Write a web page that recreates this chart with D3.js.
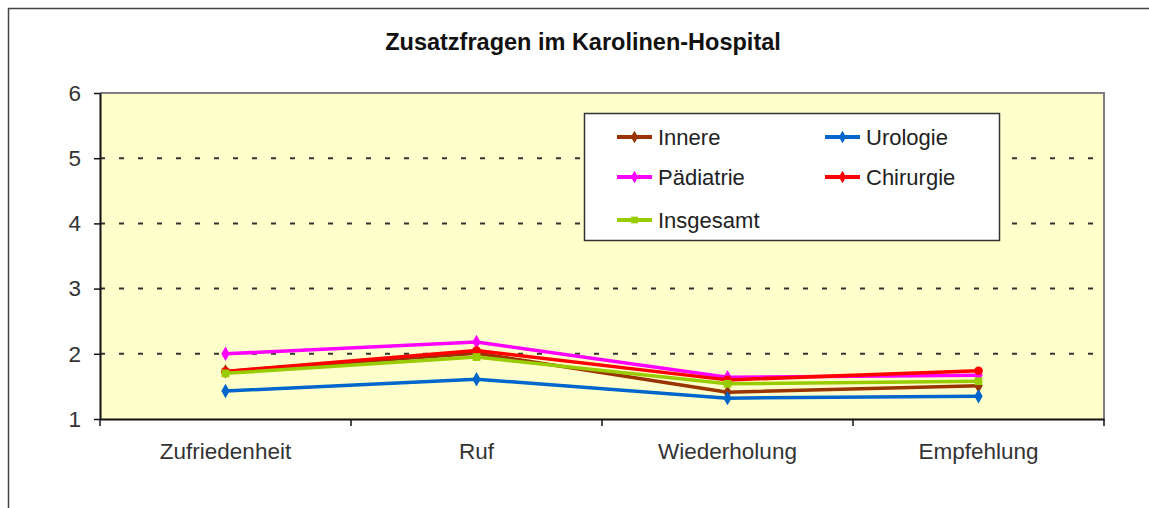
<!DOCTYPE html>
<html>
<head>
<meta charset="utf-8">
<script src="https://cdn.jsdelivr.net/npm/d3@7"></script>
<style>
  html, body { margin: 0; padding: 0; background: #fff; }
  svg { display: block; font-family: "Liberation Sans", Arial, sans-serif; }
</style>
</head>
<body>
<svg id="chart" width="1149" height="508"></svg>
<script>
// data
const categories = ["Zufriedenheit", "Ruf", "Wiederholung", "Empfehlung"];
const innere = [1.73, 2.01, 1.41, 1.51];
const urologie = [1.43, 1.61, 1.32, 1.35];
const paediatrie = [2.0, 2.18, 1.64, 1.67];
const chirurgie = [1.73, 2.05, 1.6, 1.74];
const insgesamt = [1.7, 1.95, 1.54, 1.58];
const yTicks = [1, 2, 3, 4, 5, 6];

const series = [
  { name: "Innere", values: innere, color: "#993300", symbol: d3.symbolDiamond },
  { name: "Urologie", values: urologie, color: "#0066cc", symbol: d3.symbolDiamond },
  { name: "Pädiatrie", values: paediatrie, color: "#ff00ff", symbol: d3.symbolDiamond },
  { name: "Chirurgie", values: chirurgie, color: "#ff0000", symbol: d3.symbolCircle },
  { name: "Insgesamt", values: insgesamt, color: "#99cc00", symbol: d3.symbolSquare }
];

const svg = d3.select("#chart");
const plot = { left: 100, top: 93, right: 1104, bottom: 419 };
const labelFont = "Liberation Sans, Arial, sans-serif";

// outer chart frame (runs off the right and bottom edges)
svg.append("rect")
  .attr("x", 8.5).attr("y", 8.5)
  .attr("width", 1160).attr("height", 520)
  .attr("fill", "#fff").attr("stroke", "#444").attr("stroke-width", 1.5);

svg.append("text")
  .attr("x", 583).attr("y", 50)
  .attr("text-anchor", "middle")
  .attr("font-size", 23.5).attr("font-weight", "bold").attr("fill", "#111")
  .text("Zusatzfragen im Karolinen-Hospital");

const x = d3.scaleBand().domain(categories).range([plot.left, plot.right]);
const y = d3.scaleLinear().domain([1, 6]).range([plot.bottom, plot.top]);

// plot background
svg.append("rect")
  .attr("x", plot.left).attr("y", plot.top)
  .attr("width", plot.right - plot.left).attr("height", plot.bottom - plot.top)
  .attr("fill", "#ffffcc");

// dashed gridlines
svg.append("g")
  .selectAll("line")
  .data(yTicks.filter((t) => t > 1 && t < 6))
  .join("line")
  .attr("x1", plot.left).attr("x2", plot.right)
  .attr("y1", (d) => y(d)).attr("y2", (d) => y(d))
  .attr("stroke", "#333").attr("stroke-width", 2)
  .attr("stroke-dasharray", "5 14");

// gray top / right border of the plot area
svg.append("path")
  .attr("d", `M${plot.left},${plot.top}H${plot.right}V${plot.bottom}`)
  .attr("fill", "none").attr("stroke", "#808080").attr("stroke-width", 2);

// y axis
const yAxis = svg.append("g")
  .attr("transform", `translate(${plot.left},0)`)
  .call(d3.axisLeft(y).tickValues(yTicks).tickFormat(d3.format("d"))
    .tickSize(6).tickPadding(13).tickSizeOuter(0));
yAxis.select(".domain").attr("stroke", "#111").attr("stroke-width", 2);
yAxis.selectAll(".tick line").attr("stroke", "#111").attr("stroke-width", 1.5);
yAxis.selectAll(".tick text")
  .attr("font-size", 22.5).attr("fill", "#333")
  .attr("font-family", labelFont);

// x axis: ticks between categories
const xAxis = svg.append("g")
  .attr("transform", `translate(0,${plot.bottom})`)
  .call(d3.axisBottom(x).tickSize(0).tickPadding(24));
xAxis.select(".domain").attr("stroke", "#111").attr("stroke-width", 2);
xAxis.selectAll(".tick text")
  .attr("font-size", 22.5).attr("fill", "#333")
  .attr("font-family", labelFont);
xAxis.append("g")
  .selectAll("line")
  .data(d3.range(categories.length + 1))
  .join("line")
  .attr("x1", (i) => plot.left + i * x.step()).attr("x2", (i) => plot.left + i * x.step())
  .attr("y1", 0).attr("y2", 7)
  .attr("stroke", "#111").attr("stroke-width", 1.5);

// series lines
const cx = (i) => x(categories[i]) + x.bandwidth() / 2;
const line = d3.line().x((d, i) => cx(i)).y((d) => y(d));

const lines = svg.append("g");
series.forEach((s) => {
  lines.append("path")
    .attr("d", line(s.values))
    .attr("fill", "none").attr("stroke", s.color).attr("stroke-width", 3.5)
    .attr("stroke-linejoin", "round");
  lines.append("g")
    .selectAll("path")
    .data(s.values)
    .join("path")
    .attr("transform", (d, i) => `translate(${cx(i)},${y(d)})`)
    .attr("d", d3.symbol().type(s.symbol).size(60))
    .attr("fill", s.color);
});

// legend
const legend = svg.append("g").attr("transform", "translate(584,113)");
legend.append("rect")
  .attr("x", 0.5).attr("y", 0.5).attr("width", 415).attr("height", 127)
  .attr("fill", "#fff").attr("stroke", "#333").attr("stroke-width", 1.5);

const legendPos = [
  [33, 24], [241, 24], [33, 64], [241, 64], [33, 107]
];
series.forEach((s, i) => {
  const [lx, ly] = legendPos[i];
  const item = legend.append("g").attr("transform", `translate(${lx},${ly})`);
  item.append("line")
    .attr("x1", 0).attr("x2", 35).attr("y1", 0).attr("y2", 0)
    .attr("stroke", s.color).attr("stroke-width", 4);
  item.append("path")
    .attr("transform", "translate(17.5,0)")
    .attr("d", d3.symbol().type(s.symbol === d3.symbolSquare ? d3.symbolSquare : d3.symbolDiamond).size(45))
    .attr("fill", s.color);
  item.append("text")
    .attr("x", 41).attr("y", 0).attr("dy", "0.36em")
    .attr("font-size", 22).attr("fill", "#222")
    .text(s.name);
});
</script>
</body>
</html>
